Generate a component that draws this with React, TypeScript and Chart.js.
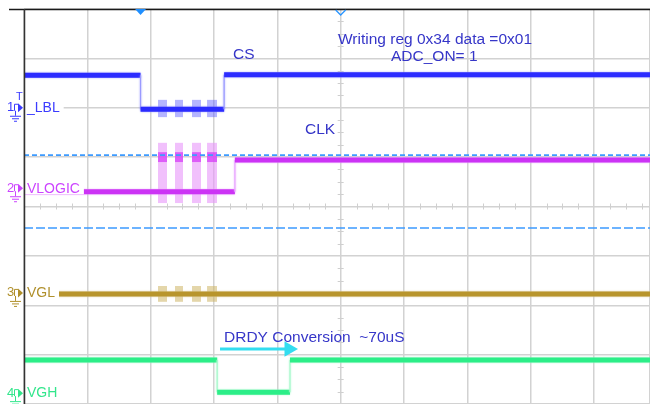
import React, { useEffect, useRef } from 'react';
import { Chart, registerables } from 'chart.js';

Chart.register(...registerables);

// axis ranges in screen divisions
const X_MIN = -5;
const X_MAX = 4.884;
const Y_MIN = -4;
const Y_MAX = 4;

// channel info
const channelNames = ['_LBL', 'VLOGIC', 'VGL', 'VGH'];
const channelColors = ['#2b2bff', '#cc33f5', '#b8952c', '#2cee88'];
const channelEdgeColors = ['#9a9aff', '#e9a6ff', '#dcc99a', '#a8f8cc'];
const labelColors = ['#3b3bff', '#cc44ff', '#b0902c', '#33e68c'];
const channelOffsets = [2.0, 0.37, -1.75, -3.78];

// traces: edge times (div) and levels (div)
const ch1Edges = [-5, -3.16, -1.84, 4.884];
const ch1Levels = [2.66, 1.97, 2.67];
const ch2Edges = [-5, -1.67, 4.884];
const ch2Levels = [0.3, 0.94];
const ch3Edges = [-5, 4.884];
const ch3Levels = [-1.77];
const ch4Edges = [-5, -1.95, -0.8, 4.884];
const ch4Levels = [-3.11, -3.76, -3.11];

// noise bursts (start, end) in div
const burstStarts = [-2.884, -2.616, -2.347, -2.11];
const burstEnds = [-2.742, -2.489, -2.205, -1.952];
const ch1BurstBand = [1.81, 2.16];
const ch2BurstBand = [0.07, 1.29];
const ch2BurstTopBand = [0.9, 1.1];
const ch3BurstBand = [-1.93, -1.61];

// cursors
const cursorLevels = [1.04, -0.435];
const cursorDashes = [[5, 3], [9, 3]];

// arrow
const arrowX = [-1.905, -0.816];
const arrowY = -2.886;

// annotations
const annotationTexts = ['CS', 'Writing reg 0x34 data =0x01', 'ADC_ON= 1', 'CLK', 'DRDY Conversion  ~70uS'];
const annotationX = [-1.7, -0.042, 0.795, -0.563, -1.842];
const annotationY = [3.09, 3.39, 3.05, 1.57, -2.633];

const triggerX = -3.16;
const centerMarkerX = 0;

function stepPoints(edges: number[], levels: number[]) {
  const pts: { x: number; y: number }[] = [];
  levels.forEach((lv, i) => {
    pts.push({ x: edges[i], y: lv });
    pts.push({ x: edges[i + 1], y: lv });
  });
  return pts;
}

function traceDataset(edges: number[], levels: number[], idx: number) {
  return {
    label: channelNames[idx],
    data: stepPoints(edges, levels),
    borderColor: channelColors[idx],
    borderWidth: 5,
    pointRadius: 0,
    fill: false,
    tension: 0,
    glow: channelEdgeColors[idx],
    segment: {
      borderWidth: (c: any) => (c.p0.parsed.x === c.p1.parsed.x ? 1.2 : undefined),
      borderColor: (c: any) => (c.p0.parsed.x === c.p1.parsed.x ? channelEdgeColors[idx] : undefined),
    },
  };
}

function burstDatasets(band: number[], color: string) {
  return burstStarts.map((s, i) => ({
    label: 'burst',
    data: [
      { x: s, y: band[1] },
      { x: burstEnds[i], y: band[1] },
    ],
    borderWidth: 0,
    borderColor: 'rgba(0,0,0,0)',
    backgroundColor: color,
    pointRadius: 0,
    fill: { value: band[0] },
  }));
}

const glowPlugin = {
  id: 'glow',
  beforeDatasetDraw(chart: any, args: any) {
    const ds = chart.data.datasets[args.index];
    if (ds.glow) {
      chart.ctx.save();
      chart.ctx.shadowColor = ds.glow;
      chart.ctx.shadowBlur = 2;
    }
  },
  afterDatasetDraw(chart: any, args: any) {
    const ds = chart.data.datasets[args.index];
    if (ds.glow) chart.ctx.restore();
  },
};

const decorPlugin = {
  id: 'scopeDecor',
  beforeDatasetsDraw(chart: any) {
    const { ctx, scales } = chart;
    const xs = scales.x;
    const ys = scales.y;
    ctx.save();
    ctx.strokeStyle = '#cfcfcf';
    ctx.lineWidth = 1;
    const cy = ys.getPixelForValue(0);
    for (let v = X_MIN; v <= X_MAX + 1e-6; v += 0.25) {
      if (Math.abs(v - Math.round(v)) < 1e-6) continue;
      const px = Math.round(xs.getPixelForValue(v)) + 0.5;
      ctx.beginPath();
      ctx.moveTo(px, cy - 3);
      ctx.lineTo(px, cy + 3);
      ctx.stroke();
    }
    const cx = xs.getPixelForValue(0);
    for (let v = Y_MIN; v <= Y_MAX + 1e-6; v += 0.25) {
      if (Math.abs(v - Math.round(v)) < 1e-6) continue;
      const py = Math.round(ys.getPixelForValue(v)) + 0.5;
      ctx.beginPath();
      ctx.moveTo(cx - 3, py);
      ctx.lineTo(cx + 3, py);
      ctx.stroke();
    }
    ctx.restore();
  },
  afterDatasetsDraw(chart: any) {
    const { ctx, chartArea, scales } = chart;
    const xs = scales.x;
    const ys = scales.y;
    ctx.save();

    // channel labels with white background
    ctx.font = '14px "Liberation Sans", Arial, sans-serif';
    ctx.textBaseline = 'middle';
    ctx.textAlign = 'left';
    channelNames.forEach((name, i) => {
      const py = ys.getPixelForValue(channelOffsets[i]);
      const tx = chartArea.left + 3;
      const w = ctx.measureText(name).width;
      ctx.fillStyle = '#ffffff';
      ctx.fillRect(chartArea.left + 1, py - 6, w + 6, 12);
      ctx.fillStyle = labelColors[i];
      ctx.fillText(name, tx, py + 0.5);
    });

    // left markers
    channelNames.forEach((_, i) => {
      const py = ys.getPixelForValue(channelOffsets[i]);
      const col = labelColors[i];
      ctx.fillStyle = col;
      ctx.strokeStyle = col;
      ctx.lineWidth = 1;
      ctx.font = '13px "Liberation Sans", Arial, sans-serif';
      ctx.fillText(String(i + 1), 7, py);
      ctx.beginPath();
      ctx.moveTo(14.5, py + 3);
      ctx.lineTo(14.5, py - 3.5);
      ctx.lineTo(18, py - 3.5);
      ctx.stroke();
      ctx.beginPath();
      ctx.moveTo(18, py - 4.5);
      ctx.lineTo(23, py);
      ctx.lineTo(18, py + 4.5);
      ctx.closePath();
      ctx.fill();
      ctx.beginPath();
      ctx.moveTo(15.5, py + 3);
      ctx.lineTo(15.5, py + 8);
      ctx.moveTo(10, py + 8.5);
      ctx.lineTo(21, py + 8.5);
      ctx.moveTo(12, py + 11);
      ctx.lineTo(19, py + 11);
      ctx.moveTo(14, py + 13.5);
      ctx.lineTo(17, py + 13.5);
      ctx.stroke();
      if (i === 0) {
        ctx.font = '11px "Liberation Sans", Arial, sans-serif';
        ctx.fillText('T', 16, py - 11);
      }
    });

    // annotations
    ctx.font = '15.5px "Liberation Sans", Arial, sans-serif';
    ctx.fillStyle = '#3636c8';
    ctx.textBaseline = 'middle';
    annotationTexts.forEach((t, i) => {
      ctx.fillText(t, xs.getPixelForValue(annotationX[i]), ys.getPixelForValue(annotationY[i]) + 1);
    });

    // borders
    ctx.strokeStyle = '#1a1a1a';
    ctx.lineWidth = 1.5;
    ctx.beginPath();
    ctx.moveTo(9, chartArea.top + 0.5);
    ctx.lineTo(chart.width, chartArea.top + 0.5);
    ctx.stroke();
    ctx.strokeStyle = '#333333';
    ctx.beginPath();
    ctx.moveTo(chartArea.left + 0.5, chartArea.top);
    ctx.lineTo(chartArea.left + 0.5, chartArea.bottom);
    ctx.stroke();

    // top markers
    const tx = xs.getPixelForValue(triggerX);
    ctx.fillStyle = '#1f8fff';
    ctx.beginPath();
    ctx.moveTo(tx - 5.5, chartArea.top);
    ctx.lineTo(tx + 5.5, chartArea.top);
    ctx.lineTo(tx, chartArea.top + 6);
    ctx.closePath();
    ctx.fill();
    const mx = xs.getPixelForValue(centerMarkerX);
    ctx.strokeStyle = '#2a95ff';
    ctx.lineWidth = 1.3;
    ctx.beginPath();
    ctx.moveTo(mx - 5, chartArea.top + 1);
    ctx.lineTo(mx, chartArea.top + 6);
    ctx.lineTo(mx + 5, chartArea.top + 1);
    ctx.stroke();

    ctx.restore();
  },
};

export default function App() {
  const canvasRef = useRef<HTMLCanvasElement | null>(null);

  useEffect(() => {
    const canvas = canvasRef.current;
    if (!canvas) return;

    const cursorDatasets = cursorLevels.map((v, i) => ({
      label: 'cursor',
      data: [
        { x: X_MIN, y: v },
        { x: X_MAX, y: v },
      ],
      borderColor: '#3d9bff',
      borderWidth: 1.6,
      borderDash: cursorDashes[i],
      pointRadius: 0,
      fill: false,
    }));

    const arrowDataset = {
      label: 'arrow',
      data: arrowX.map((x) => ({ x, y: arrowY })),
      borderColor: '#33ddf0',
      backgroundColor: '#33ddf0',
      borderWidth: 3,
      pointStyle: 'triangle',
      pointRotation: 90,
      pointRadius: [0, 9],
      pointBorderWidth: 0,
      fill: false,
    };

    const datasets: any[] = [
      ...cursorDatasets,
      arrowDataset,
      traceDataset(ch1Edges, ch1Levels, 0),
      traceDataset(ch2Edges, ch2Levels, 1),
      traceDataset(ch3Edges, ch3Levels, 2),
      traceDataset(ch4Edges, ch4Levels, 3),
      ...burstDatasets(ch2BurstTopBand, 'rgba(214,60,245,0.75)'),
      ...burstDatasets(ch1BurstBand, 'rgba(90,90,255,0.45)'),
      ...burstDatasets(ch2BurstBand, 'rgba(232,150,250,0.6)'),
      ...burstDatasets(ch3BurstBand, 'rgba(205,180,100,0.55)'),
    ];

    const zeroX = (scale: any) => {
      scale.height = 0;
    };
    const zeroY = (scale: any) => {
      scale.width = 0;
    };

    const chart = new Chart(canvas, {
      type: 'line',
      data: { datasets },
      options: {
        animation: false,
        responsive: false,
        devicePixelRatio: 1,
        layout: { autoPadding: false, padding: { left: 24, top: 9, right: 0, bottom: 0 } },
        plugins: { legend: { display: false }, tooltip: { enabled: false } },
        scales: {
          x: {
            type: 'linear',
            min: X_MIN,
            max: X_MAX,
            ticks: { display: false, stepSize: 1, padding: 0 },
            grid: { color: '#d2d2d2', lineWidth: 1.5, drawTicks: false },
            border: { display: false },
            afterFit: zeroX,
          },
          y: {
            type: 'linear',
            min: Y_MIN,
            max: Y_MAX,
            ticks: { display: false, stepSize: 1, padding: 0 },
            grid: { color: '#d2d2d2', lineWidth: 1.5, drawTicks: false },
            border: { display: false },
            afterFit: zeroY,
          },
        },
      } as any,
      plugins: [glowPlugin, decorPlugin],
    });

    return () => chart.destroy();
  }, []);

  return (
    <div style={{ position: 'fixed', left: 0, top: 0, width: 650, height: 404, background: '#ffffff' }}>
      <canvas ref={canvasRef} width={650} height={404} style={{ display: 'block', width: 650, height: 404 }} />
    </div>
  );
}
